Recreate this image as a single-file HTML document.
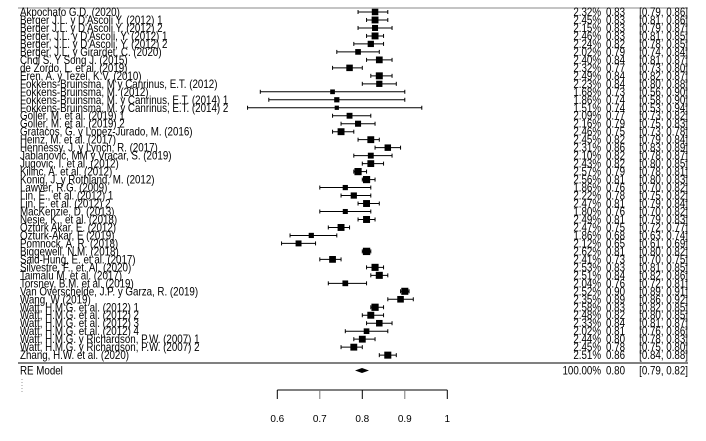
<!DOCTYPE html>
<html><head><meta charset="utf-8"><style>
html,body{margin:0;padding:0;background:#fff;}
svg{display:block;}
text{font-family:"Liberation Sans",Arial,sans-serif;font-size:10px;fill:#000;}
text.t{font-size:11.5px;}
</style></head><body>
<svg id="s" width="706" height="441" xmlns="http://www.w3.org/2000/svg">
<line x1="18" y1="8" x2="688" y2="8" stroke="#888" stroke-width="1"/>
<line x1="18" y1="363" x2="688" y2="363" stroke="#000" stroke-width="1"/>
<g id="rows"></g>
<text class="t" transform="translate(20,374.5) scale(0.85,1)">RE Model</text>
<polygon points="355,370.5 362,368 369,370.5 362,373" fill="#000"/>
<text class="t" text-anchor="end" transform="translate(601,374.5) scale(0.85,1)">100.00%</text>
<text class="t" text-anchor="end" transform="translate(625,374.5) scale(0.85,1)">0.80</text>
<text class="t" text-anchor="end" transform="translate(688,374.5) scale(0.85,1)">[0.79, 0.82]</text>
<line x1="22" y1="379" x2="22" y2="392" stroke="#999" stroke-dasharray="1,2"/>
<line x1="277.3" y1="390" x2="447.3" y2="390" stroke="#000"/>
<g stroke="#000">
<line x1="277.3" y1="390" x2="277.3" y2="399"/>
<line x1="319.8" y1="390" x2="319.8" y2="399" stroke="#777"/>
<line x1="362.3" y1="390" x2="362.3" y2="399"/>
<line x1="404.8" y1="390" x2="404.8" y2="399" stroke="#777"/>
<line x1="447.3" y1="390" x2="447.3" y2="399"/>
</g>
<text x="277.3" y="422" text-anchor="middle">0.6</text>
<text x="319.8" y="422" text-anchor="middle">0.7</text>
<text x="362.3" y="422" text-anchor="middle">0.8</text>
<text x="404.8" y="422" text-anchor="middle">0.9</text>
<text x="447.3" y="422" text-anchor="middle">1</text>
</svg>
<script>
var d=[
["Akpochafo G.D. (2020)",2.32,.83,.79,.86],
["Berger J.L. y D'Ascoli Y. (2012) 1",2.45,.83,.81,.86],
["Berger J.L. y D'Ascoli Y. (2012) 2",2.15,.83,.79,.87],
["Berger, J.L. y D'Ascoli, Y. (2012) 1",2.46,.83,.81,.85],
["Berger, J.L. y D'Ascoli, Y. (2012) 2",2.24,.82,.78,.85],
["Berger, J.L. y Girardet, C. (2020)",2.02,.79,.74,.84],
["Choi S. Y Song J.      (2015)",2.40,.84,.81,.87],
["de Zordo, L. et al. (2019)",2.32,.77,.73,.80],
["Eren, A. y Tezel, K.V. (2010)",2.49,.84,.82,.87],
["Fokkens-Bruinsma, M y Canrinus, E.T. (2012)",2.23,.84,.80,.88],
["Fokkens-Bruinsma, M. (2012)",1.68,.73,.56,.90],
["Fokkens-Bruinsma, M. y Canrinus, E.T. (2014) 1",1.86,.74,.58,.90],
["Fokkens-Bruinsma, M. y Canrinus, E.T. (2014) 2",1.51,.74,.53,.94],
["Goller, M. et al. (2019) 1",2.09,.77,.73,.82],
["Goller, M. et al. (2019) 2",2.16,.79,.75,.83],
["Gratacos, G. y Lopez-Jurado, M. (2016)",2.46,.75,.73,.78],
["Heinz, M. et al. (2017)",2.45,.82,.79,.84],
["Hennessy, J. y Lynch, R.  (2017)",2.31,.86,.83,.89],
["Jablanovic, MM y Vracar, S. (2019)",2.10,.82,.78,.87],
["Jugovic, I. et al. (2012)",2.43,.82,.80,.85],
["Kilinc, A. et al. (2012)",2.57,.79,.78,.81],
["Konig, J. y Rothland, M. (2012)",2.56,.81,.80,.83],
["Lawver, R.G. (2009)",1.86,.76,.70,.82],
["Lin, E., et al. (2012) 1",2.22,.78,.75,.82],
["Lin, E. et al. (2012) 2",2.47,.81,.79,.84],
["MacKenzie, D. (2013)",1.80,.76,.70,.82],
["Nesje, K., et al. (2018)",2.49,.81,.79,.83],
["Ozturk Akar, E. (2012)",2.47,.75,.72,.77],
["Ozturk-Akar, E (2019)",1.86,.68,.63,.74],
["Pomnock, A. R. (2018)",2.12,.65,.61,.69],
["Biggewell, N.M. (2018)",2.62,.81,.80,.82],
["Said-Hung, E. et al. (2017)",2.41,.73,.70,.75],
["Silvestre, F., et. Al. (2020)",2.53,.83,.81,.85],
["Taimalu M. et al. (2017)",2.51,.84,.82,.86],
["Torsney, B.M. et al. (2019)",2.04,.76,.72,.81],
["Van Overschelde, J.P. y  Garza, R. (2019)",2.52,.90,.89,.91],
["Wang, W (2019)",2.35,.89,.86,.92],
["Watt, H.M.G. et al. (2012) 1",2.58,.83,.82,.85],
["Watt, H.M.G. et al. (2012) 2",2.48,.82,.80,.85],
["Watt, H.M.G. et al. (2012) 3",2.33,.84,.81,.87],
["Watt, H.M.G. et al. (2012) 4",2.02,.81,.76,.86],
["Watt, H.M.G. y Richardson, P.W. (2007) 1",2.44,.80,.78,.83],
["Watt, H.M.G. y Richardson, P.W. (2007) 2",2.45,.78,.75,.80],
["Zhang, H.W. et al. (2020)",2.51,.86,.84,.88]];
function X(v){return 277.3+(v-0.6)*425;}
function T(x,y,s,end){return '<text class="t"'+(end?' text-anchor="end"':'')+' transform="translate('+x+','+y+') scale(0.85,1)">'+s+'</text>';}
var h="",f=function(v){return v.toFixed(2);};
d.forEach(function(r,i){
 var y=12+i*7.98, ty=y+4;
 h+=T(20,ty,r[0],false);
 h+='<line x1="'+X(r[3])+'" y1="'+y+'" x2="'+X(r[4])+'" y2="'+y+'" stroke="#000"/>';
 h+='<line x1="'+X(r[3])+'" y1="'+(y-2)+'" x2="'+X(r[3])+'" y2="'+(y+2)+'" stroke="#000"/>';
 h+='<line x1="'+X(r[4])+'" y1="'+(y-2)+'" x2="'+X(r[4])+'" y2="'+(y+2)+'" stroke="#000"/>';
 var s=r[1]*2.8;
 h+='<rect x="'+(X(r[2])-s/2)+'" y="'+(y-s/2)+'" width="'+s+'" height="'+s+'" fill="#000"/>';
 h+=T(601,ty,f(r[1])+'%',true);
 h+=T(625,ty,f(r[2]),true);
 h+=T(688,ty,'['+f(r[3])+', '+f(r[4])+']',true);
});
document.getElementById("rows").innerHTML=h;
</script>
</body></html>
